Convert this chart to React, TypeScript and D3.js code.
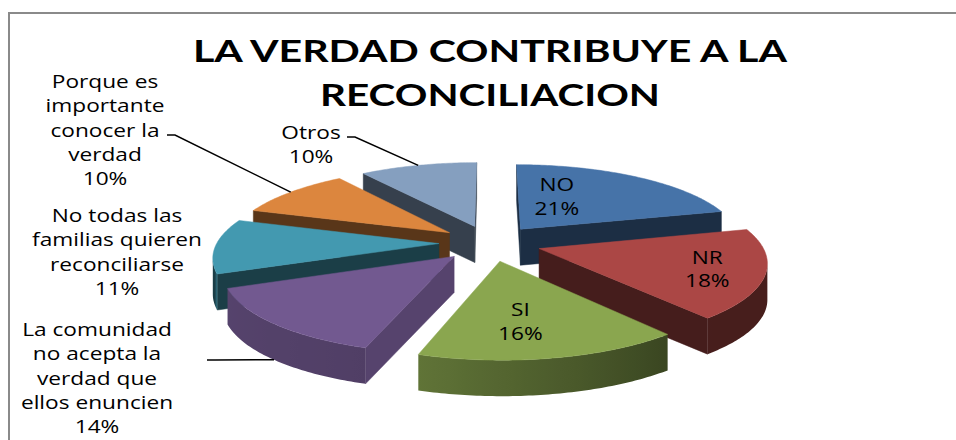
import React from 'react';
import * as d3 from 'd3';

// slices, clockwise from 12 o'clock
const categories = [
  ['NO'],
  ['NR'],
  ['SI'],
  ['La comunidad', 'no acepta la', 'verdad que', 'ellos enuncien'],
  ['No todas las', 'familias quieren', 'reconciliarse'],
  ['Porque es', 'importante', 'conocer la', 'verdad'],
  ['Otros'],
];
const values = [21, 18, 16, 14, 11, 10, 10];
const colors = ['#4F81BD', '#C0504D', '#9BBB59', '#8064A2', '#4BACC6', '#F79646', '#95B3D7'];
const titleLines = ['LA VERDAD CONTRIBUYE A LA', 'RECONCILIACION'];

const W = 956;
const H = 440;
const TITLE_FONT = 'Lato, "Open Sans", sans-serif';
const FONT = '"Open Sans", Lato, sans-serif';
const SX = 1.26; // the picture is stretched sideways
const LH = 24.3;

// pie projection
const CX = 490;
const CY = 243;
const RX = 222;
const RY = 78;
const K = 0.15; // perspective strength
const DEPTH = 36;
const EXPLODE = 0.23;
const CAM: [number, number] = [0, 1 / K];

type P = [number, number];

const dir = (t: number): P => [Math.sin(t), -Math.cos(t)];
const project = (x: number, z: number, down = 0): P => {
  const s = 1 / (1 - K * z);
  return [CX + RX * x * s, CY + RY * z * s + down];
};
const shade = (c: string, f: number) => {
  const r = d3.rgb(c);
  return d3.rgb(r.r * f, r.g * f, r.b * f).formatHex();
};
const line = d3.line();

// brightness of the curved rim by angle (lit from front-left, like the Excel render)
const rimLight = (t: number) => {
  const deg = (t * 180) / Math.PI;
  if (deg <= 140) return 0.37;
  if (deg <= 200) return 0.37 + ((deg - 140) / 60) * 0.26;
  if (deg <= 248.5) return 0.63 + ((deg - 200) / 48.5) * 0.04;
  return 0.36;
};

// label placement (inside labels nudged off the radial spot, outside ones placed left)
const insideNudge: Record<number, P> = { 0: [-36, 0], 1: [35, 5], 2: [-9, 6] };
const outsidePos: Record<number, P> = { 3: [97, 336], 4: [117, 222], 5: [105, 88], 6: [311, 139] };
const leaderStart: Record<number, P> = { 3: [207, 360], 5: [167, 135], 6: [347, 137] };

const arcs = d3.pie<number>().sort(null).value(d => d)(values);

const slices = arcs.map((a, i) => {
  const a0 = a.startAngle;
  const a1 = a.endAngle;
  const mid = (a0 + a1) / 2;
  const md = dir(mid);
  const o: P = [md[0] * EXPLODE, md[1] * EXPLODE];
  const n = Math.max(10, Math.ceil((a1 - a0) / 0.015));
  const ts = d3.range(n + 1).map(k => a0 + ((a1 - a0) * k) / n);
  const rim = ts.map(t => {
    const d = dir(t);
    return [o[0] + d[0], o[1] + d[1]] as P;
  });

  const apexTop = project(o[0], o[1]);
  const apexBot = project(o[0], o[1], DEPTH);
  const top = line([apexTop, ...rim.map(p => project(p[0], p[1]))]) + 'Z';

  // outer curved wall, only the part that faces the camera
  const vis = ts.map((t, k) => {
    const d = dir(t);
    return d[0] * (CAM[0] - rim[k][0]) + d[1] * (CAM[1] - rim[k][1]) > 0;
  });
  const first = vis.indexOf(true);
  const last = vis.lastIndexOf(true);
  let wall: { d: string; x1: number; x2: number; stops: { off: number; c: string }[] } | null = null;
  if (first >= 0) {
    const seg = rim.slice(first, last + 1);
    const segT = ts.slice(first, last + 1);
    const upper = seg.map(p => project(p[0], p[1]));
    const lower = seg.map(p => project(p[0], p[1], DEPTH)).reverse();
    const x1 = upper[0][0];
    const x2 = upper[upper.length - 1][0];
    const span = x2 - x1 || 1;
    const stops = upper
      .filter((_, k) => k % 4 === 0 || k === upper.length - 1)
      .map((p, k, arr) => {
        const idx = k === arr.length - 1 ? upper.length - 1 : k * 4;
        return { off: Math.min(1, Math.max(0, (p[0] - x1) / span)), c: shade(colors[i], rimLight(segT[idx])) };
      });
    wall = { d: line([...upper, ...lower]) + 'Z', x1, x2, stops };
  }

  // flat radial walls
  const sides: { d: string; fill: string }[] = [];
  [
    { t: a0, sgn: -1 },
    { t: a1, sgn: 1 },
  ].forEach(({ t, sgn }) => {
    const nx = sgn * Math.cos(t);
    const nz = sgn * Math.sin(t);
    if (nx * (CAM[0] - o[0]) + nz * (CAM[1] - o[1]) <= 0) return;
    const d = dir(t);
    const e: P = [o[0] + d[0], o[1] + d[1]];
    const pts = [apexTop, project(e[0], e[1]), project(e[0], e[1], DEPTH), apexBot];
    const f = nz > 0 ? 0.36 + 0.34 * Math.max(0, (nx - 0.4) / 0.6) : 0.36;
    sides.push({ d: line(pts) + 'Z', fill: shade(colors[i], f) });
  });

  const depthKey = md[1];
  const edge = project(o[0] + md[0], o[1] + md[1], md[1] > 0 ? DEPTH : 0);
  const inner = project(o[0] + md[0] * 0.6, o[1] + md[1] * 0.6);
  return { i, top, wall, sides, depthKey, edge, inner };
});

const order = [...slices].sort((a, b) => a.depthKey - b.depthKey);

const Label = ({ lines, x, y, gap }: { lines: string[]; x: number; y: number; gap: number }) => (
  <g>
    {lines.map((t, k) => (
      <text
        key={k}
        transform={`translate(${x},${y + k * gap}) scale(${SX},1)`}
        textAnchor="middle"
        fontFamily={FONT}
        fontSize={18}
        fill="#000"
      >
        {t}
      </text>
    ))}
  </g>
);

export default function App() {
  return (
    <svg
      width={W}
      height={H}
      style={{ position: 'absolute', left: 0, top: 0, background: '#fff' }}
    >
      <defs>
        {slices.map(s =>
          s.wall ? (
            <linearGradient
              key={s.i}
              id={`wall-${s.i}`}
              gradientUnits="userSpaceOnUse"
              x1={s.wall.x1}
              x2={s.wall.x2}
              y1={0}
              y2={0}
            >
              {s.wall.stops.map((st, k) => (
                <stop key={k} offset={st.off} stopColor={st.c} />
              ))}
            </linearGradient>
          ) : null
        )}
      </defs>
      <rect x={9} y={13} width={W + 10} height={H + 10} fill="#fff" stroke="#8a8a8a" strokeWidth={2} />

      {titleLines.map((t, k) => (
        <text
          key={t}
          x={490}
          y={62 + k * 44}
          textAnchor="middle"
          fontFamily={TITLE_FONT}
          fontWeight={700}
          fontSize={31}
          textLength={k === 0 ? 594 : 340}
          lengthAdjust="spacingAndGlyphs"
          fill="#000"
        >
          {t}
        </text>
      ))}

      {order.map(s => (
        <g key={s.i}>
          {s.sides.map((w, k) => (
            <path key={k} d={w.d} fill={w.fill} stroke={w.fill} strokeWidth={0.5} />
          ))}
          {s.wall && <path d={s.wall.d} fill={`url(#wall-${s.i})`} />}
          <path d={s.top} fill={shade(colors[s.i], 0.89)} stroke={shade(colors[s.i], 0.89)} strokeWidth={0.5} />
        </g>
      ))}

      {slices.map(s => {
        const lines = [...categories[s.i], `${values[s.i]}%`];
        if (insideNudge[s.i]) {
          const [dx, dy] = insideNudge[s.i];
          const x = s.inner[0] + dx;
          const y = s.inner[1] + dy + 6.5 - ((lines.length - 1) * 23.5) / 2;
          return <Label key={s.i} lines={lines} x={x} y={y} gap={23.5} />;
        }
        const [x, y] = outsidePos[s.i];
        const st = leaderStart[s.i];
        return (
          <g key={s.i}>
            <Label lines={lines} x={x} y={y} gap={LH} />
            {st && (
              <path
                d={line([st, [st[0] + 8, st[1]], s.edge]) || ''}
                fill="none"
                stroke="#000"
                strokeWidth={1.5}
              />
            )}
          </g>
        );
      })}
    </svg>
  );
}
